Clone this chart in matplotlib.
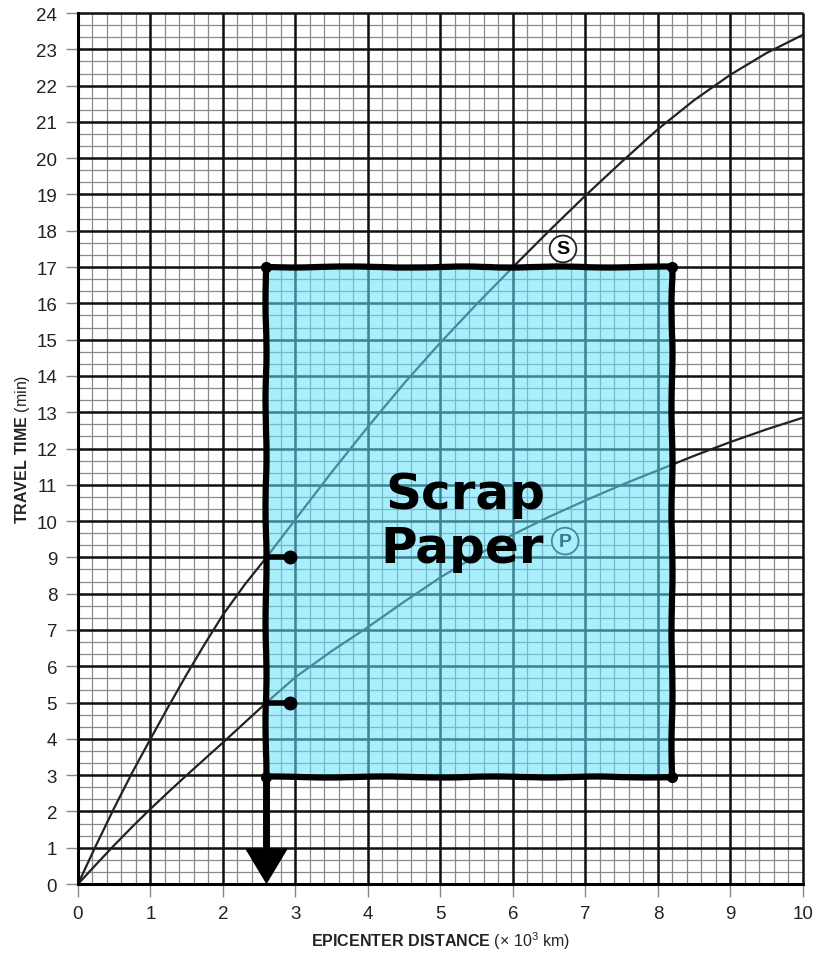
import numpy as np
import matplotlib.pyplot as plt
from matplotlib.patches import Rectangle, Polygon

plt.rcParams['font.family'] = ['Liberation Sans', 'DejaVu Sans']
plt.rcParams['mathtext.fontset'] = 'custom'
plt.rcParams['mathtext.rm'] = 'Liberation Sans'
plt.rcParams['mathtext.bf'] = 'Liberation Sans:bold'

# travel-time curves (x in 10^3 km, y in minutes)
dist = [0, 0.25, 0.5, 0.75, 1, 1.25, 1.5, 1.75, 2, 2.3, 2.6, 3, 3.5, 4, 4.5, 5, 5.5, 6,
        6.5, 7, 7.5, 8, 8.5, 9, 9.5, 10]
s_time = [0, 1.07, 2.1, 3.08, 4.0, 4.9, 5.78, 6.62, 7.42, 8.25, 9.0, 10.05, 11.35, 12.6,
          13.8, 14.92, 15.98, 17.0, 18.0, 18.97, 19.9, 20.8, 21.6, 22.3, 22.9, 23.4]
p_time = [0, 0.54, 1.07, 1.58, 2.07, 2.54, 3.0, 3.45, 3.9, 4.45, 5.0, 5.7, 6.42, 7.08,
          7.78, 8.45, 9.05, 9.63, 10.12, 10.57, 11.0, 11.4, 11.8, 12.18, 12.53, 12.85]

# scrap paper box and marked readings
box_x = [2.6, 8.2]
box_y = [2.95, 17.0]
marks_y = [9.0, 5.0]

fig = plt.figure(figsize=(8.21, 9.54), dpi=100)
ax = fig.add_axes([0.095, 0.0723, 0.883, 0.913])
ax.set_xlim(0, 10)
ax.set_ylim(0, 24)

# graph paper grid
ax.vlines(np.arange(0, 10.01, 0.2), 0, 24, colors='#8a8a8a', lw=0.9, zorder=1, clip_on=False)
ax.hlines(np.arange(0, 24.01, 1 / 3), 0, 10, colors='#8a8a8a', lw=0.9, zorder=1, clip_on=False)
ax.vlines(np.arange(0, 11), 0, 24, colors='#111111', lw=1.8, zorder=1.5, clip_on=False)
ax.hlines(np.arange(0, 25), 0, 10, colors='#111111', lw=1.8, zorder=1.5, clip_on=False)

ax.plot(dist, s_time, color='#222222', lw=1.6, zorder=2)
ax.plot(dist, p_time, color='#222222', lw=1.6, zorder=2)

circ = dict(boxstyle='circle,pad=0.25', fc='white', ec='#222222', lw=1.3)
ax.text(6.69, 17.5, 'S', fontsize=14, fontweight='bold', ha='center', va='center',
        bbox=circ, zorder=2.5)
ax.text(6.72, 9.45, 'P', fontsize=14, fontweight='bold', ha='center', va='center',
        bbox=circ, zorder=2.5)

# scrap paper overlay
ax.add_patch(Rectangle((box_x[0], box_y[0]), box_x[1] - box_x[0], box_y[1] - box_y[0],
                       fc='#62e0fc', alpha=0.55, ec='none', zorder=3))
bx = [box_x[0], box_x[1], box_x[1], box_x[0], box_x[0]]
by = [box_y[1], box_y[1], box_y[0], box_y[0], box_y[1]]
border, = ax.plot(bx, by, color='black', lw=4.5, solid_joinstyle='round',
                  solid_capstyle='round', zorder=4)
border.set_sketch_params(scale=0.5, length=150, randomness=4)
ax.plot(bx[:4], by[:4], 'o', color='black', ms=7, zorder=4)

for m in marks_y:
    ax.plot([box_x[0], 2.9], [m, m], color='black', lw=4, zorder=4, solid_capstyle='round')
    ax.plot([2.93], [m], 'o', color='black', ms=9, zorder=4)

# arrow down to the distance axis
ax.plot([box_x[0], box_x[0]], [box_y[0] - 0.1, 0.9], color='black', lw=5, zorder=4,
        solid_capstyle='round', clip_on=False)
ax.add_patch(Polygon([[2.33, 0.95], [2.87, 0.95], [box_x[0], 0.05]], closed=True,
                     fc='black', ec='black', lw=1.5, joinstyle='round', zorder=4))

ax.text(5.35, 10.75, 'Scrap', fontsize=36, fontweight='heavy', ha='center', va='center',
        family=['DejaVu Sans'], zorder=5)
ax.text(5.3, 9.25, 'Paper', fontsize=36, fontweight='heavy', ha='center', va='center',
        family=['DejaVu Sans'], zorder=5)

for side in ['top', 'right']:
    ax.spines[side].set_visible(False)
ax.spines['left'].set_linewidth(2.2)
ax.spines['bottom'].set_linewidth(2.2)
ax.spines['left'].set_zorder(2)
ax.spines['bottom'].set_zorder(2)

ax.set_xticks(range(0, 11))
ax.set_yticks(range(0, 25))
ax.tick_params(axis='both', length=9, width=1, color='#888888', labelsize=13.5,
               labelcolor='#222222', pad=6)

ax.set_xlabel(r'$\mathbf{EPICENTER\ DISTANCE}$ (× 10$^3$ km)', fontsize=11.5, labelpad=6,
              color='#222222')
ax.xaxis.set_label_coords(0.5, -0.052)
ax.set_ylabel(r'$\mathbf{TRAVEL\ TIME}$ (min)', fontsize=11.5, color='#222222')
ax.yaxis.set_label_coords(-0.063, 0.5)

fig.savefig('out.png', dpi=100)
